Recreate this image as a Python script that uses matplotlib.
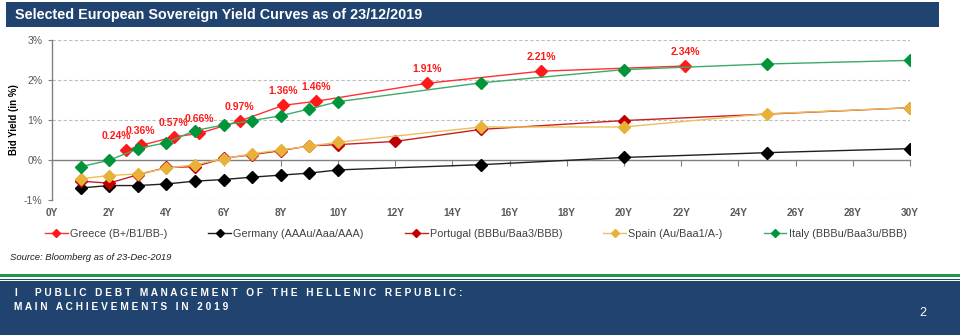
import numpy as np
import matplotlib
matplotlib.use("Agg")
from matplotlib import pyplot as plt
from matplotlib.patches import Rectangle

plt.rcParams['font.family'] = ['Liberation Sans', 'DejaVu Sans']

# yield curves as of 23/12/2019 (maturity in years, bid yield in %)
greece_x = [2.6, 3.1, 4.25, 5.15, 6.57, 8.09, 9.23, 13.12, 17.1, 22.13]
greece_y = [0.24, 0.36, 0.57, 0.66, 0.97, 1.36, 1.46, 1.91, 2.21, 2.34]

germany_x = [1, 2, 3, 4, 5, 6, 7, 8, 9, 10, 15, 20, 25, 30]
germany_y = [-0.70, -0.64, -0.64, -0.60, -0.53, -0.49, -0.43, -0.38, -0.33, -0.25, -0.12, 0.06, 0.18, 0.28]

portugal_x = [1, 2, 3, 4, 5, 6, 7, 8, 9, 10, 12, 15, 20, 30]
portugal_y = [-0.53, -0.58, -0.37, -0.19, -0.17, 0.04, 0.13, 0.23, 0.35, 0.38, 0.46, 0.76, 0.98, 1.30]

spain_x = [1, 2, 3, 4, 5, 6, 7, 8, 9, 10, 15, 20, 25, 30]
spain_y = [-0.47, -0.39, -0.35, -0.21, -0.12, 0.03, 0.15, 0.25, 0.34, 0.44, 0.82, 0.82, 1.15, 1.30]

italy_x = [1, 2, 3, 4, 5, 6, 7, 8, 9, 10, 15, 20, 25, 30]
italy_y = [-0.17, -0.01, 0.28, 0.43, 0.73, 0.87, 0.98, 1.10, 1.27, 1.45, 1.92, 2.25, 2.39, 2.48]

names = ["Greece (B+/B1/BB-)", "Germany (AAAu/Aaa/AAA)", "Portugal (BBBu/Baa3/BBB)",
         "Spain (Au/Baa1/A-)", "Italy (BBBu/Baa3u/BBB)"]
colors = ["#FF1A1A", "#000000", "#C00000", "#E8B23A", "#00953A"]
line_colors = ["#FF3030", "#202020", "#C82020", "#EDBE5A", "#3DAA66"]

xticks = list(range(0, 31, 2))
xlabels = [f"{t}Y" for t in xticks]
yticks = [-1, 0, 1, 2, 3]
ylabels = ["-1%", "0%", "1%", "2%", "3%"]

navy = "#21436F"

fig = plt.figure(figsize=(9.6, 3.35), dpi=100)
W, H = 960, 335

# header bar
fig.patches.append(Rectangle((6 / W, 1 - 27 / H), 933 / W, 25 / H, transform=fig.transFigure,
                             facecolor=navy, edgecolor="none"))
fig.text(15 / W, 1 - 14.5 / H, "Selected European Sovereign Yield Curves as of 23/12/2019",
         color="white", fontsize=10.4, fontweight="bold", va="center", ha="left")

# footer
fig.patches.append(Rectangle((0, 1 - 277 / H), 1, 3 / H, transform=fig.transFigure,
                             facecolor="#1E9947", edgecolor="none"))
fig.patches.append(Rectangle((0, 1 - 280 / H), 1, 1 / H, transform=fig.transFigure,
                             facecolor=navy, edgecolor="none"))
fig.patches.append(Rectangle((0, 0), 1, 1 - 281 / H, transform=fig.transFigure,
                             facecolor=navy, edgecolor="none"))


def spaced(s):
    # wide letter spacing like the slide footer
    return "   ".join(" ".join(w) for w in s.split())


line1 = spaced("PUBLIC DEBT MANAGEMENT OF THE HELLENIC REPUBLIC:")
line2 = spaced("MAIN ACHIEVEMENTS IN 2019")
fig.text(14 / W, 1 - 293 / H, "I", color="white", fontsize=7.3, fontweight="bold", va="center")
fig.text(35 / W, 1 - 293 / H, line1, color="white", fontsize=7.3, fontweight="bold", va="center")
fig.text(14 / W, 1 - 306.5 / H, line2, color="white", fontsize=7.3, fontweight="bold", va="center")
fig.text(923 / W, 1 - 313 / H, "2", color="white", fontsize=9, va="center", ha="center")

# chart
ax = fig.add_axes([52 / W, 135 / H, 858 / W, 160.5 / H])
series = [(greece_x, greece_y), (germany_x, germany_y), (portugal_x, portugal_y),
          (spain_x, spain_y), (italy_x, italy_y)]
for (xs, ys), name, c, lc in zip(series, names, colors, line_colors):
    ax.plot(xs, ys, color=lc, lw=1.0, marker="D", markersize=6,
            markerfacecolor=c, markeredgecolor=c, label=name, zorder=3)

for i, (x, y) in enumerate(zip(greece_x, greece_y)):
    dx = -7 if i == 0 else 0
    ax.annotate(f"{y:.2f}%", (x, y), xytext=(dx, 6.5), textcoords="offset points",
                ha="center", va="bottom", color="#FF1A1A", fontsize=7.5, fontweight="bold")

ax.set_xlim(0, 30)
ax.set_ylim(-1, 3)
ax.set_xticks(xticks)
ax.set_xticklabels(xlabels)
ax.set_yticks(yticks)
ax.set_yticklabels(ylabels)
for s in ["top", "right"]:
    ax.spines[s].set_visible(False)
ax.spines["bottom"].set_position(("data", 0))
ax.spines["bottom"].set_color("#808080")
ax.spines["left"].set_color("#808080")
ax.spines["bottom"].set_linewidth(1.0)
ax.spines["left"].set_linewidth(1.0)
ax.tick_params(axis="x", direction="out", length=4, color="#808080", pad=31,
               labelsize=7.3, labelcolor="#595959")
ax.tick_params(axis="y", direction="out", length=3, color="#808080", pad=4,
               labelsize=7.5, labelcolor="#595959")
for lab in ax.get_xticklabels():
    lab.set_fontweight("bold")
for y in [-1, 1, 2, 3]:
    ax.axhline(y, color="#BFBFBF", lw=0.8, ls=(0, (3, 2)), zorder=1)
ax.set_ylabel("Bid Yield (in %)", fontsize=7, fontweight="bold", labelpad=3)

fig.legend(loc="center left", bbox_to_anchor=(45 / W, 1 - 234 / H), ncol=5, frameon=False,
           fontsize=7.8, handlelength=2.1, handletextpad=0.2, columnspacing=3.8,
           labelcolor="#404040", borderaxespad=0, borderpad=0, markerscale=0.7)

fig.text(10 / W, 1 - 257 / H, "Source: Bloomberg as of 23-Dec-2019", fontsize=6.8,
         style="italic", va="center", color="#202020")

fig.savefig("out.png", dpi=100)
